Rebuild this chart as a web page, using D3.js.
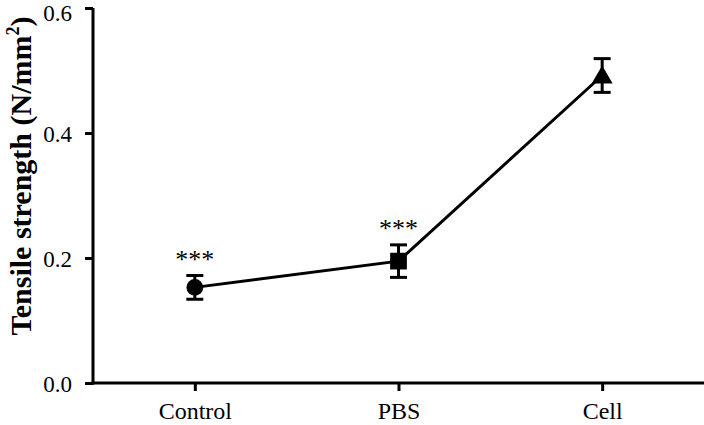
<!DOCTYPE html>
<html><head><meta charset="utf-8">
<script src="https://cdn.jsdelivr.net/npm/d3@7"></script>
<style>body{margin:0;background:#fff;} svg{display:block;} text{font-family:'Liberation Serif','Times New Roman','DejaVu Serif',serif !important;}</style>
</head><body>
<script>
const categories = ["Control", "PBS", "Cell"];
const means = [0.153, 0.195, 0.492];
const errors = [0.019, 0.026, 0.027];
const markers = ["circle", "square", "triangle"];
const significance = ["***", "***", ""];
const yTicks = [0.0, 0.2, 0.4, 0.6];
const yLabel = "Tensile strength (N/mm";

const W = 704, H = 425;
const svg = d3.select("body").append("svg").attr("width", W).attr("height", H);
const x = d3.scalePoint().domain(categories).range([93, 704]).padding(0.5);
const y = d3.scaleLinear().domain([0, 0.6]).range([383, 8]);

const yAxis = svg.append("g").attr("transform", "translate(93,0)")
  .call(d3.axisLeft(y).tickValues(yTicks).tickFormat(d3.format(".1f")).tickSize(8).tickSizeOuter(0));
const xAxis = svg.append("g").attr("transform", "translate(0,383)")
  .call(d3.axisBottom(x).tickSize(8).tickSizeOuter(0));
[yAxis, xAxis].forEach(g => {
  g.attr("font-family", null);
  g.select(".domain").attr("stroke", "#000").attr("stroke-width", 3);
  g.selectAll(".tick line").attr("stroke", "#000").attr("stroke-width", 3);
  g.selectAll(".tick text").attr("font-size", 24).attr("fill", "#000");
});
yAxis.selectAll(".tick text").attr("font-size", 23).attr("x", -21).attr("dy", "0.35em");
// keep the top tick label just inside the picture
yAxis.selectAll(".tick text").filter(d => d === 0.6).attr("dy", "0.55em");
xAxis.selectAll(".tick text").attr("y", 19).attr("dy", "0.71em");
xAxis.select(".domain").attr("d", "M91.5,0H704");
yAxis.select(".domain").attr("d", "M0,8V384.5");

// y label
const t = svg.append("text")
  .attr("transform", "translate(31,176) rotate(-90)")
  .attr("text-anchor", "middle")
  .attr("font-weight", "bold").attr("font-size", 30).attr("fill", "#000");
t.append("tspan").text(yLabel);
t.append("tspan").attr("font-size", 18).attr("dy", -12).text("2");
t.append("tspan").attr("dy", 12).text(")");

const data = categories.map((c, i) => ({c, m: means[i], e: errors[i], mk: markers[i], s: significance[i]}));

// line
svg.append("path").datum(data)
  .attr("d", d3.line().x(d => x(d.c)).y(d => y(d.m)))
  .attr("fill", "none").attr("stroke", "#000").attr("stroke-width", 3);

// error bars
const eb = svg.append("g").attr("stroke", "#000").attr("stroke-width", 3);
data.forEach(d => {
  const cx = x(d.c);
  eb.append("line").attr("x1", cx).attr("x2", cx).attr("y1", y(d.m + d.e)).attr("y2", y(d.m - d.e));
  eb.append("line").attr("x1", cx - 8.5).attr("x2", cx + 8.5).attr("y1", y(d.m + d.e)).attr("y2", y(d.m + d.e));
  eb.append("line").attr("x1", cx - 8.5).attr("x2", cx + 8.5).attr("y1", y(d.m - d.e)).attr("y2", y(d.m - d.e));
});

// markers
const symMap = {circle: d3.symbolCircle, square: d3.symbolSquare, triangle: d3.symbolTriangle};
const sizeMap = {circle: 220, square: 280, triangle: 190};
svg.append("g").selectAll("path.mk").data(data).join("path")
  .attr("transform", d => `translate(${x(d.c)},${y(d.m) + (d.mk === "triangle" ? 2 : 0)})`)
  .attr("d", d => d3.symbol().type(symMap[d.mk]).size(sizeMap[d.mk])())
  .attr("fill", "#000");

// significance stars
svg.append("g").selectAll("text").data(data.filter(d => d.s)).join("text")
  .attr("x", d => x(d.c)).attr("y", d => y(d.m + d.e) - 8)
  .attr("text-anchor", "middle")
  .attr("font-size", 26).attr("fill", "#000")
  .text(d => d.s);
</script>
</body></html>
